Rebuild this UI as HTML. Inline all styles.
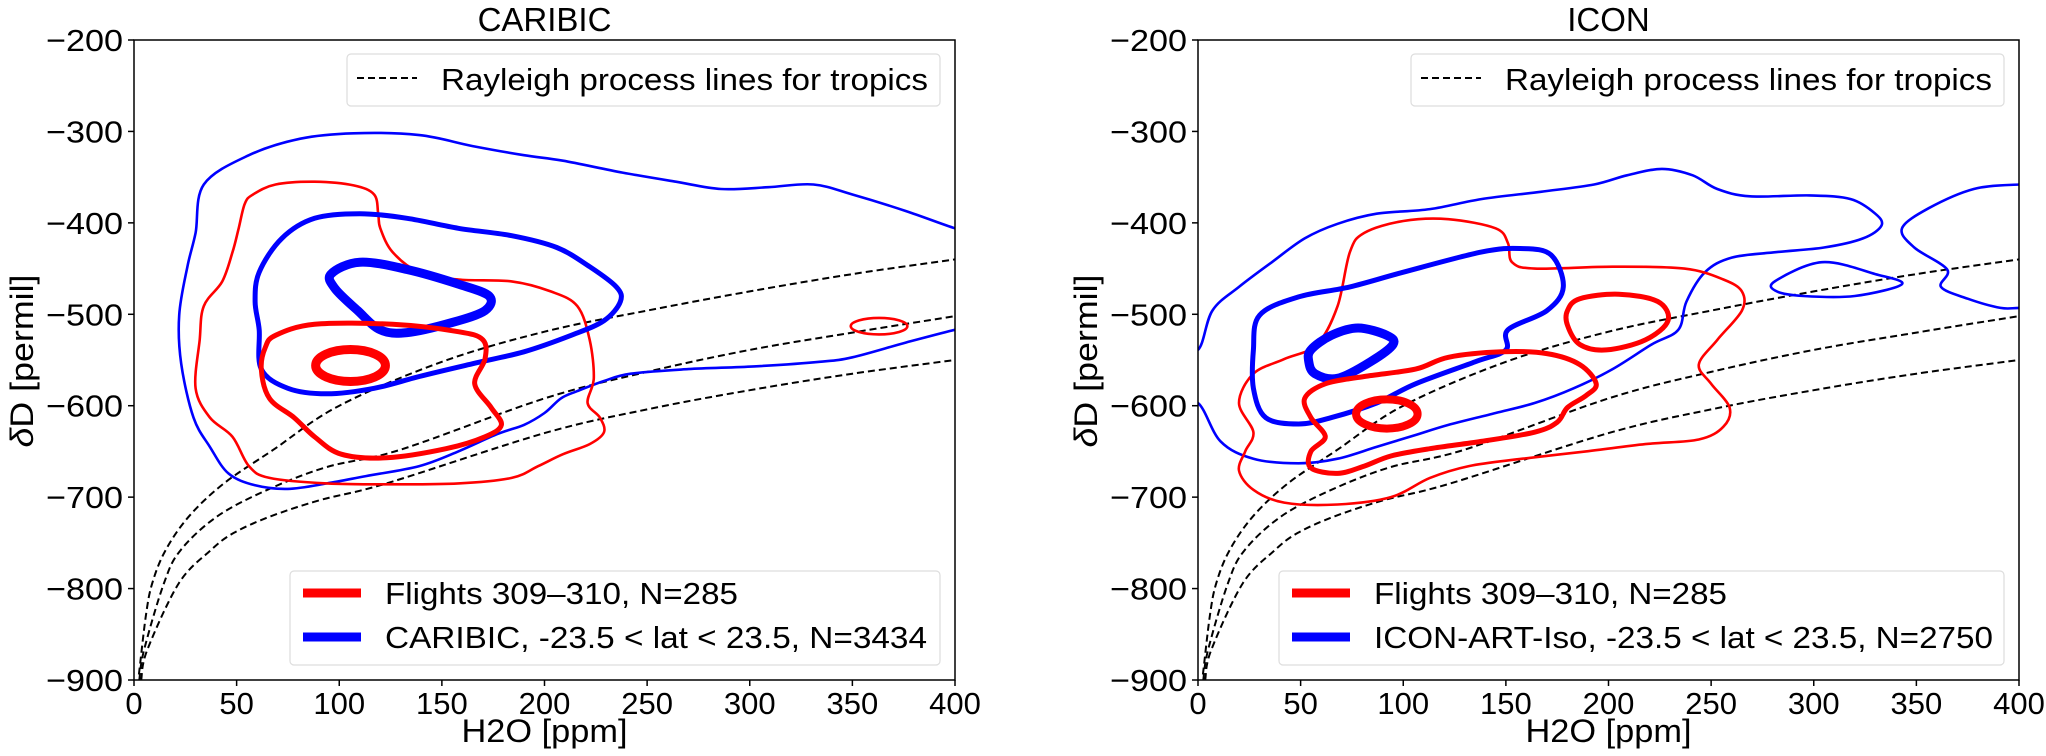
<!DOCTYPE html>
<html><head><meta charset="utf-8"><style>
html,body{margin:0;padding:0;background:#fff;}
svg{display:block;font-family:"Liberation Sans",sans-serif;}
</style></head><body>
<svg id="fig" width="2046" height="756" viewBox="0 0 2046 756" xmlns="http://www.w3.org/2000/svg">
<defs>
<clipPath id="clipL"><rect x="134" y="40" width="821" height="640"/></clipPath>
<clipPath id="clipR"><rect x="1198" y="40" width="821" height="640"/></clipPath>
</defs>
</svg>
<script>
// ---- shared axis data ----
const xTicks=[0,50,100,150,200,250,300,350,400];
const yTicks=[-200,-300,-400,-500,-600,-700,-800,-900];
// Rayleigh process lines
const ray1X=[2.4,5.7,8.9,15.4,26.8,43.8,68,100,150,200,250,300,350,400];
const ray1Y=[-894,-831,-794,-758,-721,-685,-648,-600,-552,-519,-496,-475,-456,-440];
const ray2X=[2.6,4.9,14.6,22.7,40.6,65,94,130,200,250,300,350,400];
const ray2Y=[-900,-867,-794,-758,-721,-692,-667,-648,-592,-563,-539,-520,-502];
const ray3X=[3.5,6.5,21.9,37.4,48.7,66.6,91,123,200,250,300,350,400];
const ray3Y=[-900,-867,-794,-758,-739,-721,-703,-685,-630,-604,-583,-565,-550];
// ---- CARIBIC contours ----
const carBlueOuterX=[34,56,81,107,139,165,190,209,238,264,286,309,331,350,376,400,412,412,400,376,350,334,302,270,242,229,216,208,200,190,177,158,139,113,94,75,59,46,37,29,23,22,26,30];
const carBlueOuterY=[-358,-326,-308,-302,-304,-316,-326,-332,-345,-355,-363,-361,-358,-369,-387,-406,-412,-512,-517,-531,-547,-552,-557,-560,-565,-573,-584,-592,-608,-621,-631,-650,-666,-677,-685,-691,-687,-674,-645,-613,-554,-501,-448,-411];
const carRedOuterX=[58,69,88,107,117,119,120,126,139,158,184,203,216,222,224,221,227,229,222,209,197,184,158,126,94,66,56,48,37,30,32,34,43,48,51,54];
const carRedOuterY=[-369,-358,-355,-359,-369,-390,-406,-432,-454,-462,-464,-475,-491,-528,-570,-597,-613,-629,-642,-653,-666,-679,-685,-686,-685,-679,-666,-634,-613,-581,-528,-491,-464,-432,-406,-379];
const carBlueMidX=[61,72,88,110,133,158,184,206,222,235,237,229,213,190,165,139,117,94,75,62,61,59];
const carBlueMidY=[-454,-417,-395,-390,-395,-406,-414,-427,-448,-470,-486,-507,-523,-541,-554,-568,-581,-587,-581,-560,-517,-486];
const carBlueInX=[96,110,133,158,173,171,155,133,120,109,98];
const carBlueInY=[-456,-443,-451,-467,-480,-496,-509,-520,-517,-496,-472];
const carRedMidX=[69,88,126,158,170,171,166,174,179,171,152,123,101,88,78,66,62,64];
const carRedMidY=[-523,-511,-511,-519,-528,-549,-576,-602,-621,-634,-647,-657,-653,-634,-613,-592,-560,-536];
const carRedRing=[105.5,-556,17,17.5];
const carRedSmall=[363,-513,13.8,9];
// ---- ICON contours ----
const iconBlueOuterX=[-12,0,7,20,36,52,68,87,113,138,167,193,209,226,241,253,269,298,318,330,333,324,305,282,260,247,238,234,221,202,183,164,145,122,106,87,68,49,27,11,0,-12];
const iconBlueOuterY=[-539,-539,-496,-470,-443,-417,-401,-390,-385,-374,-366,-358,-348,-341,-348,-363,-371,-370,-374,-390,-403,-417,-427,-432,-438,-454,-486,-517,-533,-560,-581,-597,-608,-621,-632,-645,-658,-663,-658,-639,-597,-597];
const iconBlueSmallX=[281,304,330,343,320,295,282];
const iconBlueSmallY=[-464,-443,-456,-467,-480,-480,-475];
const iconBlueEdgeX=[400,378,356,343,349,365,362,375,391,400,412,412];
const iconBlueEdgeY=[-358,-363,-384,-406,-427,-451,-470,-483,-493,-493,-493,-358];
const iconBlueMidX=[30,49,74,100,138,157,172,178,170,151,150,135,106,87,65,49,33,27,27];
const iconBlueMidY=[-501,-481,-470,-454,-432,-428,-435,-470,-496,-517,-539,-552,-576,-597,-613,-620,-613,-581,-539];
const iconBlueInX=[55,65,78,92,95,84,68,57,54];
const iconBlueInY=[-539,-523,-515,-523,-533,-552,-570,-565,-552];
const iconRedOuterX=[20,27,42,58,68,74,81,100,122,145,151,153,164,202,237,256,265,265,253,244,250,259,256,244,218,189,158,132,113,94,68,42,27,20,23,27];
const iconRedOuterY=[-597,-565,-549,-533,-491,-432,-411,-398,-396,-406,-422,-443,-450,-448,-450,-462,-475,-496,-528,-555,-576,-602,-623,-637,-642,-650,-658,-666,-679,-700,-708,-706,-692,-671,-650,-629];
const iconRedMidX=[52,62,81,106,122,148,170,186,194,189,180,175,164,138,113,94,81,68,55,55,62,55];
const iconRedMidY=[-592,-576,-568,-560,-547,-541,-543,-555,-576,-589,-602,-618,-629,-639,-647,-655,-666,-674,-668,-650,-634,-613];
const iconRedRingX=[180,186,205,224,229,218,199,186,180];
const iconRedRingY=[-496,-483,-478,-486,-507,-528,-539,-533,-512];
const iconRedSmall=[92,-609,15,16];

const NS='http://www.w3.org/2000/svg';
const svg=document.getElementById('fig');
function mk(tag,attrs,parent){const e=document.createElementNS(NS,tag);for(const k in attrs)e.setAttribute(k,attrs[k]);(parent||svg).appendChild(e);return e;}
function smoothClosed(pts){
  const n=pts.length;let d='M'+pts[0][0].toFixed(1)+','+pts[0][1].toFixed(1);
  for(let i=0;i<n;i++){const p0=pts[(i-1+n)%n],p1=pts[i],p2=pts[(i+1)%n],p3=pts[(i+2)%n];
    const c1=[p1[0]+(p2[0]-p0[0])/6,p1[1]+(p2[1]-p0[1])/6],c2=[p2[0]-(p3[0]-p1[0])/6,p2[1]-(p3[1]-p1[1])/6];
    d+='C'+c1[0].toFixed(1)+','+c1[1].toFixed(1)+' '+c2[0].toFixed(1)+','+c2[1].toFixed(1)+' '+p2[0].toFixed(1)+','+p2[1].toFixed(1);}
  return d+'Z';}
function smoothOpen(pts){
  const n=pts.length;let d='M'+pts[0][0].toFixed(1)+','+pts[0][1].toFixed(1);
  for(let i=0;i<n-1;i++){const p0=pts[Math.max(i-1,0)],p1=pts[i],p2=pts[i+1],p3=pts[Math.min(i+2,n-1)];
    const c1=[p1[0]+(p2[0]-p0[0])/6,p1[1]+(p2[1]-p0[1])/6],c2=[p2[0]-(p3[0]-p1[0])/6,p2[1]-(p3[1]-p1[1])/6];
    d+='C'+c1[0].toFixed(1)+','+c1[1].toFixed(1)+' '+c2[0].toFixed(1)+','+c2[1].toFixed(1)+' '+p2[0].toFixed(1)+','+p2[1].toFixed(1);}
  return d;}

function panel(P){
  const x0=P.left,x1=P.left+821,y0=40,y1=680;
  const sx=v=>x0+(v-0)/400*(x1-x0), sy=v=>y0+(-200-v)/700*(y1-y0);
  const g=mk('g',{});
  
  
  const plot=mk('g',{'clip-path':'url(#'+P.clip+')'},g);
  
  
  [[ray1X,ray1Y],[ray2X,ray2Y],[ray3X,ray3Y]].forEach((r,i)=>{
    const p=mk('path',{d:smoothOpen(r[0].map((v,j)=>[sx(v),sy(r[1][j])])),fill:'none',stroke:'#000','stroke-width':2,'stroke-dasharray':'7,4'},plot);
    
    
  });
  P.contours.forEach(c=>{
    let el;
    if(c.e){el=mk('ellipse',{cx:sx(c.e[0]),cy:sy(c.e[1]),rx:c.e[2]/400*821,ry:c.e[3]/700*640,fill:'none',stroke:c.col,'stroke-width':c.w},plot);}
    else{el=mk('path',{d:smoothClosed(c.x.map((v,j)=>[sx(v),sy(c.y[j])])),fill:'none',stroke:c.col,'stroke-width':c.w,'stroke-linejoin':'round'},plot);}
    
    
  });
  const fr=mk('rect',{x:x0,y:y0,width:821,height:640,fill:'none',stroke:'#000','stroke-width':1.5},g);
  
  
  xTicks.forEach(v=>{
    const t=mk('line',{x1:sx(v),x2:sx(v),y1:y1,y2:y1+6,stroke:'#000','stroke-width':1.5},g);
    
    
    const l=mk('text',{x:sx(v),y:714,'font-size':31,'text-anchor':'middle'},g);l.textContent=String(v);
    
    
  });
  yTicks.forEach(v=>{
    const t=mk('line',{x1:x0-6,x2:x0,y1:sy(v),y2:sy(v),stroke:'#000','stroke-width':1.5},g);
    
    
    const l=mk('text',{x:x0-11,y:sy(v)+11,'font-size':31,'text-anchor':'end',textLength:77,lengthAdjust:'spacingAndGlyphs'},g);l.textContent='\u2212'+Math.abs(v);
    
    
  });
  const ti=mk('text',{x:(x0+x1)/2,y:31,'font-size':33,'text-anchor':'middle'},g);ti.textContent=P.title;
  
  
  const xl=mk('text',{x:(x0+x1)/2,y:742,'font-size':32,'text-anchor':'middle',textLength:166,lengthAdjust:'spacingAndGlyphs'},g);xl.textContent='H2O [ppm]';
  
  
  const yl=mk('text',{x:0,y:0,'font-size':32,'text-anchor':'middle',textLength:173,lengthAdjust:'spacingAndGlyphs',transform:'translate('+(x0-101)+',361) rotate(-90)'},g);
  yl.innerHTML='<tspan font-style="italic">δ</tspan>D [permil]';
  
  
  const L1=mk('g',{},g);
  
  
  mk('rect',{x:P.lg1x,y:54,width:x1-15-P.lg1x,height:52,rx:4,fill:'#fff',stroke:'#ddd','stroke-width':1.2},L1);
  mk('line',{x1:P.lg1x+10,x2:P.lg1x+70,y1:78,y2:78,stroke:'#000','stroke-width':2,'stroke-dasharray':'7,4'},L1);
  const t1=mk('text',{x:P.lg1x+94,y:90,'font-size':31,textLength:487,lengthAdjust:'spacingAndGlyphs'},L1);t1.textContent='Rayleigh process lines for tropics';
  const L2=mk('g',{},g);
  
  
  mk('rect',{x:P.lg2x,y:571,width:x1-15-P.lg2x,height:94,rx:4,fill:'#fff',stroke:'#ddd','stroke-width':1.2},L2);
  mk('line',{x1:P.lg2x+13,x2:P.lg2x+71,y1:593,y2:593,stroke:'#f00','stroke-width':9},L2);
  mk('line',{x1:P.lg2x+13,x2:P.lg2x+71,y1:637,y2:637,stroke:'#00f','stroke-width':9},L2);
  const t2=mk('text',{x:P.lg2x+95,y:604,'font-size':31,textLength:353,lengthAdjust:'spacingAndGlyphs'},L2);t2.textContent='Flights 309\u2013310, N=285';
  const t3=mk('text',{x:P.lg2x+95,y:648,'font-size':31,textLength:P.l3w,lengthAdjust:'spacingAndGlyphs'},L2);t3.textContent=P.l3;
}
panel({name:'caribic',title:'CARIBIC',left:134,clip:'clipL',lg1x:347,lg2x:290,l3:'CARIBIC, -23.5 < lat < 23.5, N=3434',l3w:542,
contours:[
 {x:carBlueOuterX,y:carBlueOuterY,col:'#00f',w:2.6,n:'caribic-blue-outer-contour'},
 {x:carRedOuterX,y:carRedOuterY,col:'#f00',w:2.6,n:'flights-red-outer-contour'},
 {x:carBlueMidX,y:carBlueMidY,col:'#00f',w:5,n:'caribic-blue-mid-contour'},
 {x:carBlueInX,y:carBlueInY,col:'#00f',w:9,n:'caribic-blue-inner-contour'},
 {x:carRedMidX,y:carRedMidY,col:'#f00',w:5,n:'flights-red-mid-contour'},
 {e:carRedRing,col:'#f00',w:9,n:'flights-red-inner-contour'},
 {e:carRedSmall,col:'#f00',w:2.6,n:'flights-red-small-contour'}]});
panel({name:'icon',title:'ICON',left:1198,clip:'clipR',lg1x:1411,lg2x:1279,l3:'ICON-ART-Iso, -23.5 < lat < 23.5, N=2750',l3w:619,
contours:[
 {x:iconBlueOuterX,y:iconBlueOuterY,col:'#00f',w:2.6,n:'icon-blue-outer-contour'},
 {x:iconBlueSmallX,y:iconBlueSmallY,col:'#00f',w:2.6,n:'icon-blue-small-contour'},
 {x:iconBlueEdgeX,y:iconBlueEdgeY,col:'#00f',w:2.6,n:'icon-blue-edge-contour'},
 {x:iconRedOuterX,y:iconRedOuterY,col:'#f00',w:2.6,n:'flights-red-outer-contour'},
 {x:iconBlueMidX,y:iconBlueMidY,col:'#00f',w:5,n:'icon-blue-mid-contour'},
 {x:iconBlueInX,y:iconBlueInY,col:'#00f',w:9,n:'icon-blue-inner-contour'},
 {x:iconRedMidX,y:iconRedMidY,col:'#f00',w:5,n:'flights-red-mid-contour'},
 {x:iconRedRingX,y:iconRedRingY,col:'#f00',w:5,n:'flights-red-ring-contour'},
 {e:iconRedSmall,col:'#f00',w:8,n:'flights-red-inner-contour'}]});
</script>
</body></html>
